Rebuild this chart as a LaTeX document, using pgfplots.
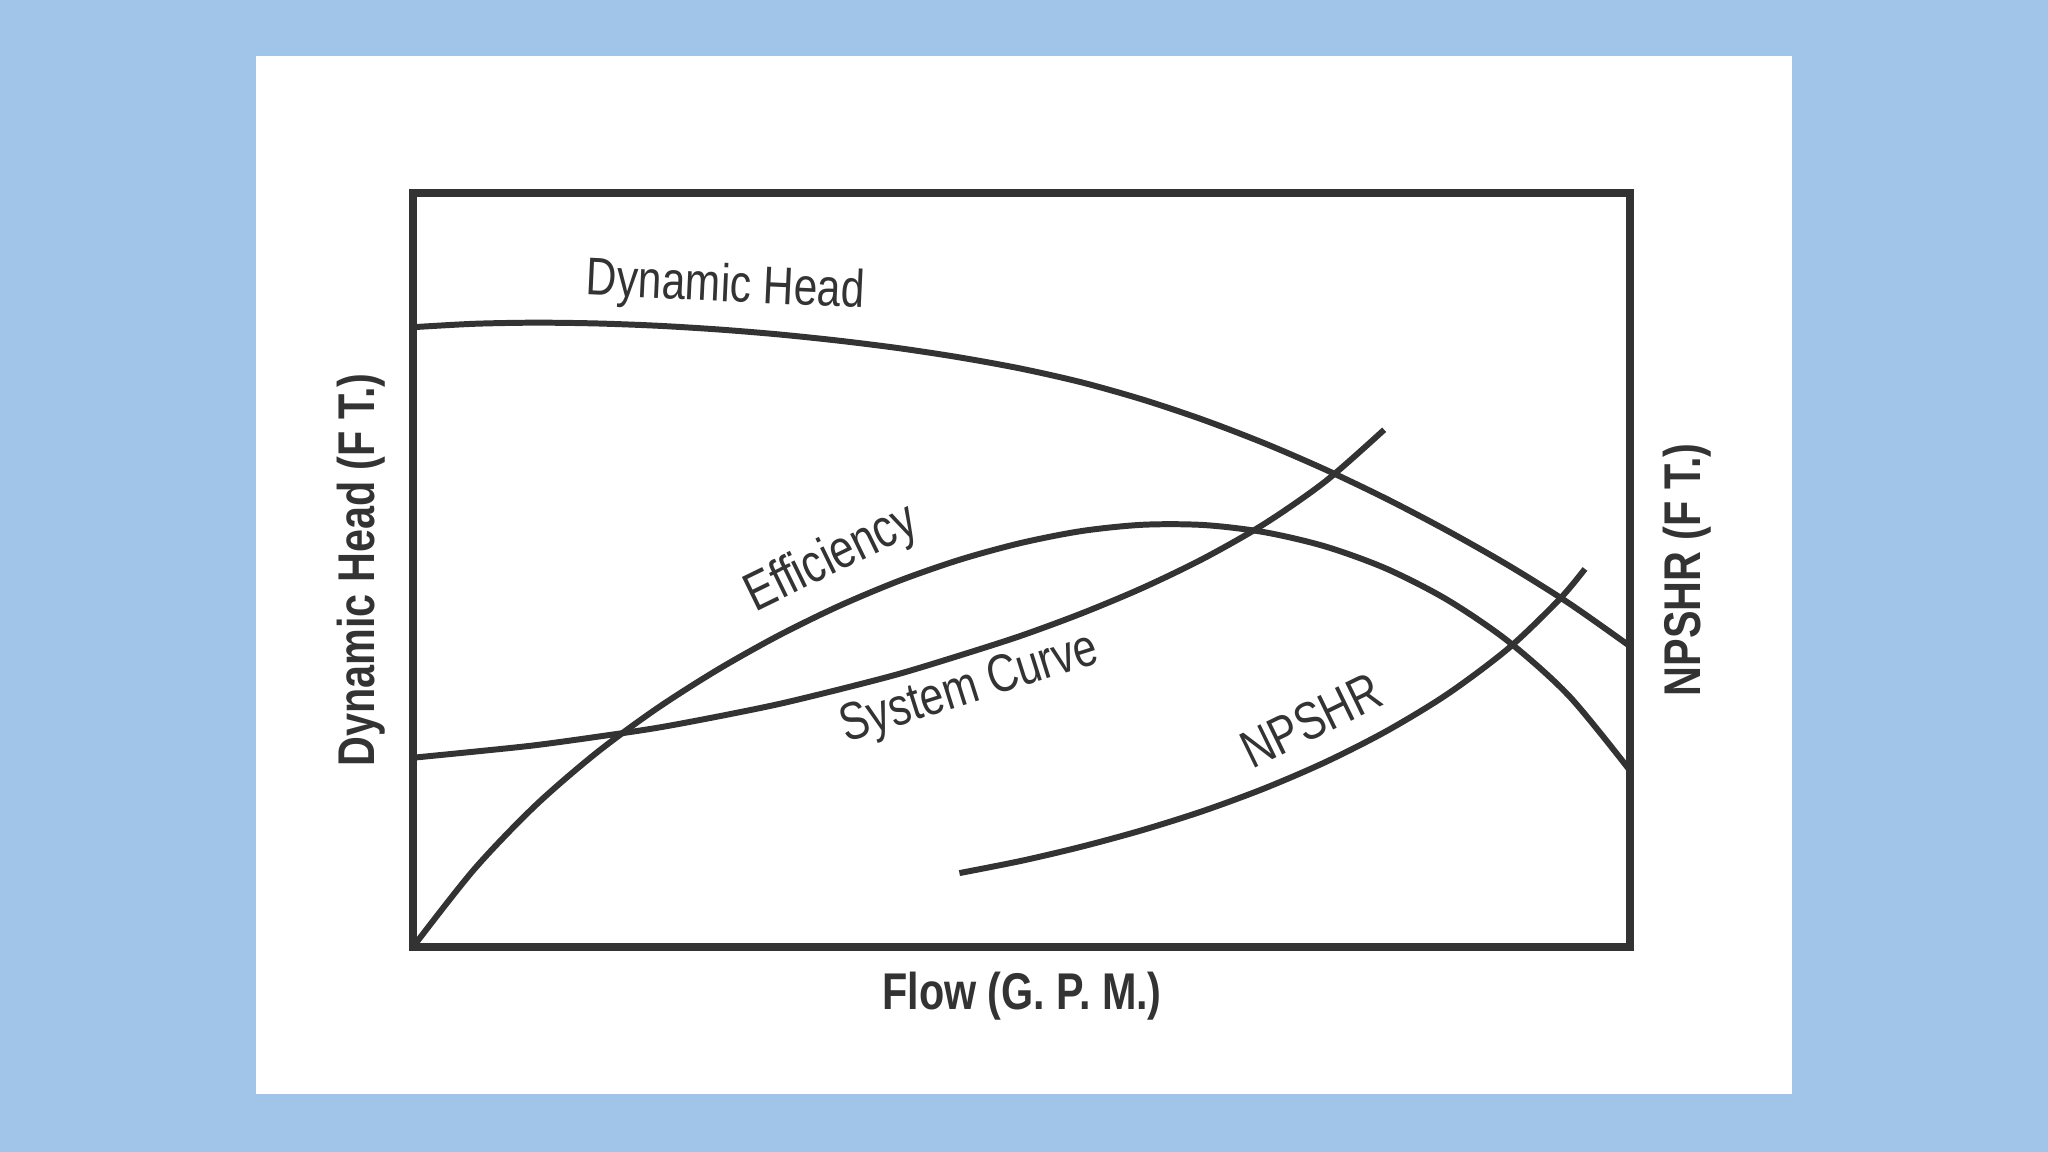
\documentclass[border=0pt]{standalone}
\usepackage{fontspec}
\setmainfont{Liberation Sans}[FakeStretch=0.8]
\newfontfamily\labfont{Liberation Sans}[FakeStretch=0.8]
\usepackage{pgfplots}
\pgfplotsset{compat=1.18}
\definecolor{bgblue}{RGB}{160,197,232}
\definecolor{ink}{RGB}{51,51,51}
\begin{document}
\begin{tikzpicture}[x=1cm,y=1cm]
\fill[bgblue] (0,0) rectangle (20.48,11.52);
\fill[white] (2.56,0.58) rectangle (17.92,10.96);
\begin{axis}[
  at={(4.13cm,2.05cm)}, anchor=south west,
  scale only axis, width=12.17cm, height=7.54cm,
  xmin=0, xmax=100, ymin=0, ymax=100,
  xtick=\empty, ytick=\empty,
  axis line style={ink, line width=2.3pt},
  curve/.style={ink, line width=1.7pt, mark=none, smooth, tension=0.5},
]
% Dynamic Head
\addplot[curve] coordinates {(0,82.2) (5,82.65) (10,82.8) (15,82.7) (20,82.4) (25,81.91) (30,81.25) (35,80.41) (40,79.4) (45,78.17) (50,76.69) (55,74.86) (60,72.58) (65,69.88) (70,66.78) (75,63.29) (80,59.43) (85,55.2) (90,50.62) (95,45.57) (100,39.89)};
% Efficiency
\addplot[curve] coordinates {(0,0) (5,10.25) (10,18.67) (15,25.65) (20,31.59) (25,36.74) (30,41.27) (35,45.22) (40,48.6) (45,51.4) (50,53.6) (55,55.18) (60,56.0) (65,55.96) (70,55.0) (75,53.1) (80,50.16) (85,46.03) (90,40.53) (95,33.28) (100,23.4)};
% System Curve
\addplot[curve] coordinates {(0,25.1) (5,25.9) (10,26.75) (15,27.85) (20,29.05) (25,30.55) (30,32.2) (35,34.15) (40,36.25) (45,38.7) (50,41.3) (55,44.28) (60,47.66) (65,51.56) (70,56.16) (75,61.79) (79.8,68.6)};
% NPSHR
\addplot[curve] coordinates {(44.9,9.8) (50,11.43) (55,13.33) (60,15.53) (65,18.08) (70,21.06) (75,24.54) (80,28.64) (85,33.54) (90,39.59) (94.2,46.1) (96.3,50.14)};
\end{axis}
\begin{scope}[every node/.style={text=ink, inner sep=0pt, anchor=base}]
\node[rotate=-2.7, font=\labfont\fontsize{15.1}{18}\selectfont] at (7.25,8.505) {Dynamic Head};
\node[rotate=26, font=\labfont\fontsize{15.4}{18}\selectfont] at (8.38,5.80) {Efficiency};
\node[rotate=17.5, font=\labfont\fontsize{15.1}{18}\selectfont] at (9.74,4.50) {System Curve};
\node[rotate=26, font=\labfont\fontsize{15.1}{18}\selectfont] at (13.19,4.15) {NPSHR};
\node[font=\labfont\bfseries\fontsize{14.7}{18}\selectfont] at (10.22,1.42) {Flow (G. P. M.)};
\node[rotate=90, font=\labfont\bfseries\fontsize{14.7}{18}\selectfont] at (3.75,5.82) {Dynamic Head (F T.)};
\node[rotate=90, font=\labfont\bfseries\fontsize{14.7}{18}\selectfont] at (17.00,5.82) {NPSHR (F T.)};
\end{scope}
\end{tikzpicture}
\end{document}
